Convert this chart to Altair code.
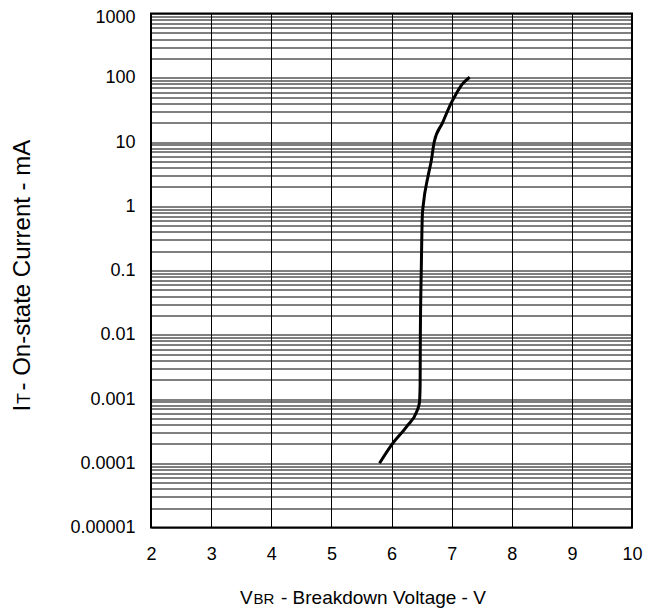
import altair as alt
import pandas as pd

# Curve: breakdown voltage (V) vs on-state current (mA)
voltage = [5.80, 6.005, 6.255, 6.42, 6.464, 6.476, 6.48, 6.495, 6.513, 6.526,
           6.61, 6.66, 6.71, 6.85, 6.99, 7.07, 7.17, 7.30]
current = [0.0001, 0.000195, 0.000375, 0.00064, 0.00087, 0.0016, 0.01, 0.1, 0.73, 1.0,
           3.0, 5.0, 10, 20, 40, 55, 78, 102]

x_ticks = [2, 3, 4, 5, 6, 7, 8, 9, 10]
y_decades = [-5, -4, -3, -2, -1, 0, 1, 2]
y_grid = [m * 10.0 ** k for k in y_decades for m in range(1, 10)] + [1000.0]

x_title_main = ["V"]
x_title_sub = ["BR"]
x_title_rest = ["- Breakdown Voltage - V"]
y_title_main = ["I"]
y_title_sub = ["T"]
y_title_rest = ["- On-state Current - mA"]

FONT = "Liberation Sans"

df = pd.DataFrame({"v": voltage, "i": current, "idx": list(range(len(voltage)))})

line = alt.Chart(df).mark_line(color="black", strokeWidth=3, interpolate="monotone").encode(
    x=alt.X("v:Q",
            scale=alt.Scale(domain=[2, 10], nice=False, zero=False),
            axis=alt.Axis(values=x_ticks, grid=True, gridColor="black", gridWidth=1, gridOpacity=1,
                          ticks=False, tickSize=0, domain=False, labelFont=FONT, labelFontSize=18,
                          labelColor="black", labelPadding=18, labelFlush=False, title=None)),
    y=alt.Y("i:Q",
            scale=alt.Scale(type="log", domain=[0.00001, 1000], nice=False),
            axis=alt.Axis(values=y_grid, grid=True, gridColor="black", gridWidth=1, gridOpacity=1,
                          ticks=False, tickSize=0, domain=False, labelFont=FONT, labelFontSize=18,
                          labelColor="black", labelPadding=16, labelOverlap=False, labelFlush=False,
                          labelOffset={"condition": {"test": "datum.value > 999", "value": 3.5}, "value": 0},
                          labelExpr="abs(log(datum.value)/LN10 - round(log(datum.value)/LN10)) < 0.001 ? format(datum.value, '.5~f') : ''",
                          title=None)),
    order=alt.Order("idx:Q"),
)


def txt(values, size, x, y, angle=0):
    return alt.Chart(pd.DataFrame({"label": values})).mark_text(
        align="left", baseline="alphabetic", font=FONT, fontSize=size, color="black", angle=angle
    ).encode(x=alt.value(x), y=alt.value(y), text="label:N")


layers = [
    line,
    txt(x_title_main, 19, 89, 590.8),
    txt(x_title_sub, 15, 102.5, 590.8),
    txt(x_title_rest, 19, 130, 590.8),
    txt(y_title_main, 24, -121, 398, 270),
    txt(y_title_sub, 18, -121, 390.5, 270),
    txt(y_title_rest, 24, -121, 377, 270),
]

chart = alt.layer(*layers).properties(
    width=481, height=514,
    autosize=alt.AutoSizeParams(type="none"),
    padding={"left": 143, "top": 5.5, "right": 15, "bottom": 80},
).configure_view(stroke="black", strokeWidth=2)

chart.save("out.html", embed_options={"renderer": "svg", "actions": False})
